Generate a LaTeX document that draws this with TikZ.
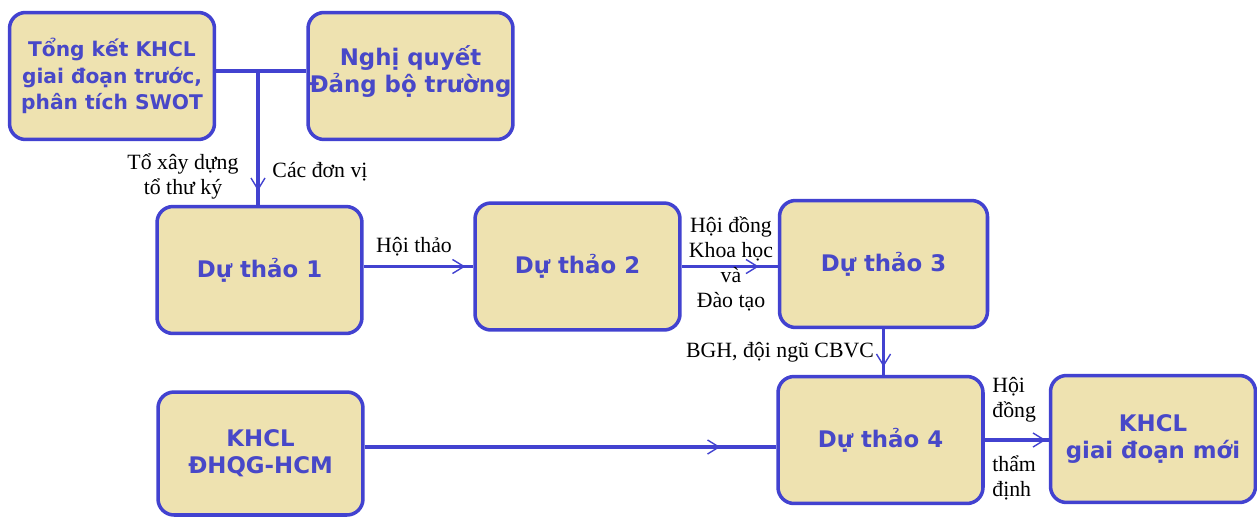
\documentclass[tikz,border=0pt]{standalone}
\usepackage{fontspec}
\setmainfont{Liberation Serif}
\setsansfont{DejaVu Sans}
\usetikzlibrary{arrows.meta,decorations.markings}
\definecolor{boxfill}{RGB}{238,226,176}
\definecolor{boxline}{RGB}{66,66,208}
\definecolor{boxtext}{RGB}{72,72,200}
\tikzset{
  khbox/.style={draw=boxline, fill=boxfill, line width=2pt, rounded corners=0.32cm,
    minimum width=4.1cm, minimum height=2.54cm, inner sep=0pt, align=center,
    text=boxtext, font=\sffamily\bfseries\fontsize{13}{15.3}\selectfont},
  link/.style={draw=boxline, line width=2pt},
  tip/.style={postaction={decorate}, decoration={markings,
    mark=at position #1 with {\arrow{Straight Barb[length=6.5pt,width=8pt,line width=0.8pt]}}}},
  lbl/.style={font=\fontsize{12.4}{14.2}\selectfont, align=center, inner sep=0pt}
}

\begin{document}
\begin{tikzpicture}[x=0.02cm, y=-0.02cm]
    \useasboundingbox (0,0) rectangle (1257,517);

    \node[khbox, font=\sffamily\bfseries\fontsize{11.5}{15.3}\selectfont] (tongket) at (112,76) {Tổng kết KHCL\\giai đoạn trước,\\phân tích SWOT};
    \node[khbox] (nghiquyet) at (410.5,76) {Nghị quyết\\Đảng bộ trường\\[-7pt]\mbox{}};
    \node[khbox] (duthao1) at (259.5,270) {Dự thảo 1};
    \node[khbox] (duthao2) at (577.5,266.5) {Dự thảo 2};
    \node[khbox, minimum width=4.16cm] (duthao3) at (883.5,264) {Dự thảo 3};
    \node[khbox] (duthao4) at (880.5,440) {Dự thảo 4};
    \node[khbox, minimum height=2.46cm] (dhqg) at (260.5,453.5) {KHCL\\ĐHQG-HCM};
    \node[khbox] (khclmoi) at (1153,439) {KHCL\\giai đoạn mới};

    \coordinate (join) at (258,71);
    \draw[link] (tongket.east |- join) -- (nghiquyet.west |- join);
    \draw[link, tip=-0.28cm] (join) -- (join |- duthao1.north);
    \draw[link, tip=-0.16cm] (duthao2.west -| duthao1.east) -- (duthao2.west);
    \draw[link, tip=-0.38cm] (duthao2.east) -- (duthao2.east -| duthao3.west);
    \draw[link, tip=-0.16cm] (duthao3.south) -- (duthao3.south |- duthao4.north);
    \draw[link, tip=-1.12cm] (dhqg.east |- 0,447) -- (0,447 -| duthao4.west);
    \draw[link, tip=-0.06cm] (duthao4.east) -- (duthao4.east -| khclmoi.west);

    \node[lbl] (toxaydung) at (183,176) {Tổ xây dựng\\tổ thư ký};
    \node[lbl] (donvi) at (320,172) {Các đơn vị};
    \node[lbl] (hoithao) at (414,247) {Hội thảo};
    \node[lbl] (hoidongkh) at (731,264) {Hội đồng\\Khoa học\\và\\Đào tạo};
    \node[lbl] (bgh) at (780,352) {BGH, đội ngũ CBVC};
    \node[lbl, align=left, anchor=west] (hoidong) at (992,400) {Hội\\đồng};
    \node[lbl, align=left, anchor=west] (thamdinh) at (992,478) {thẩm\\định};
\end{tikzpicture}
\end{document}
